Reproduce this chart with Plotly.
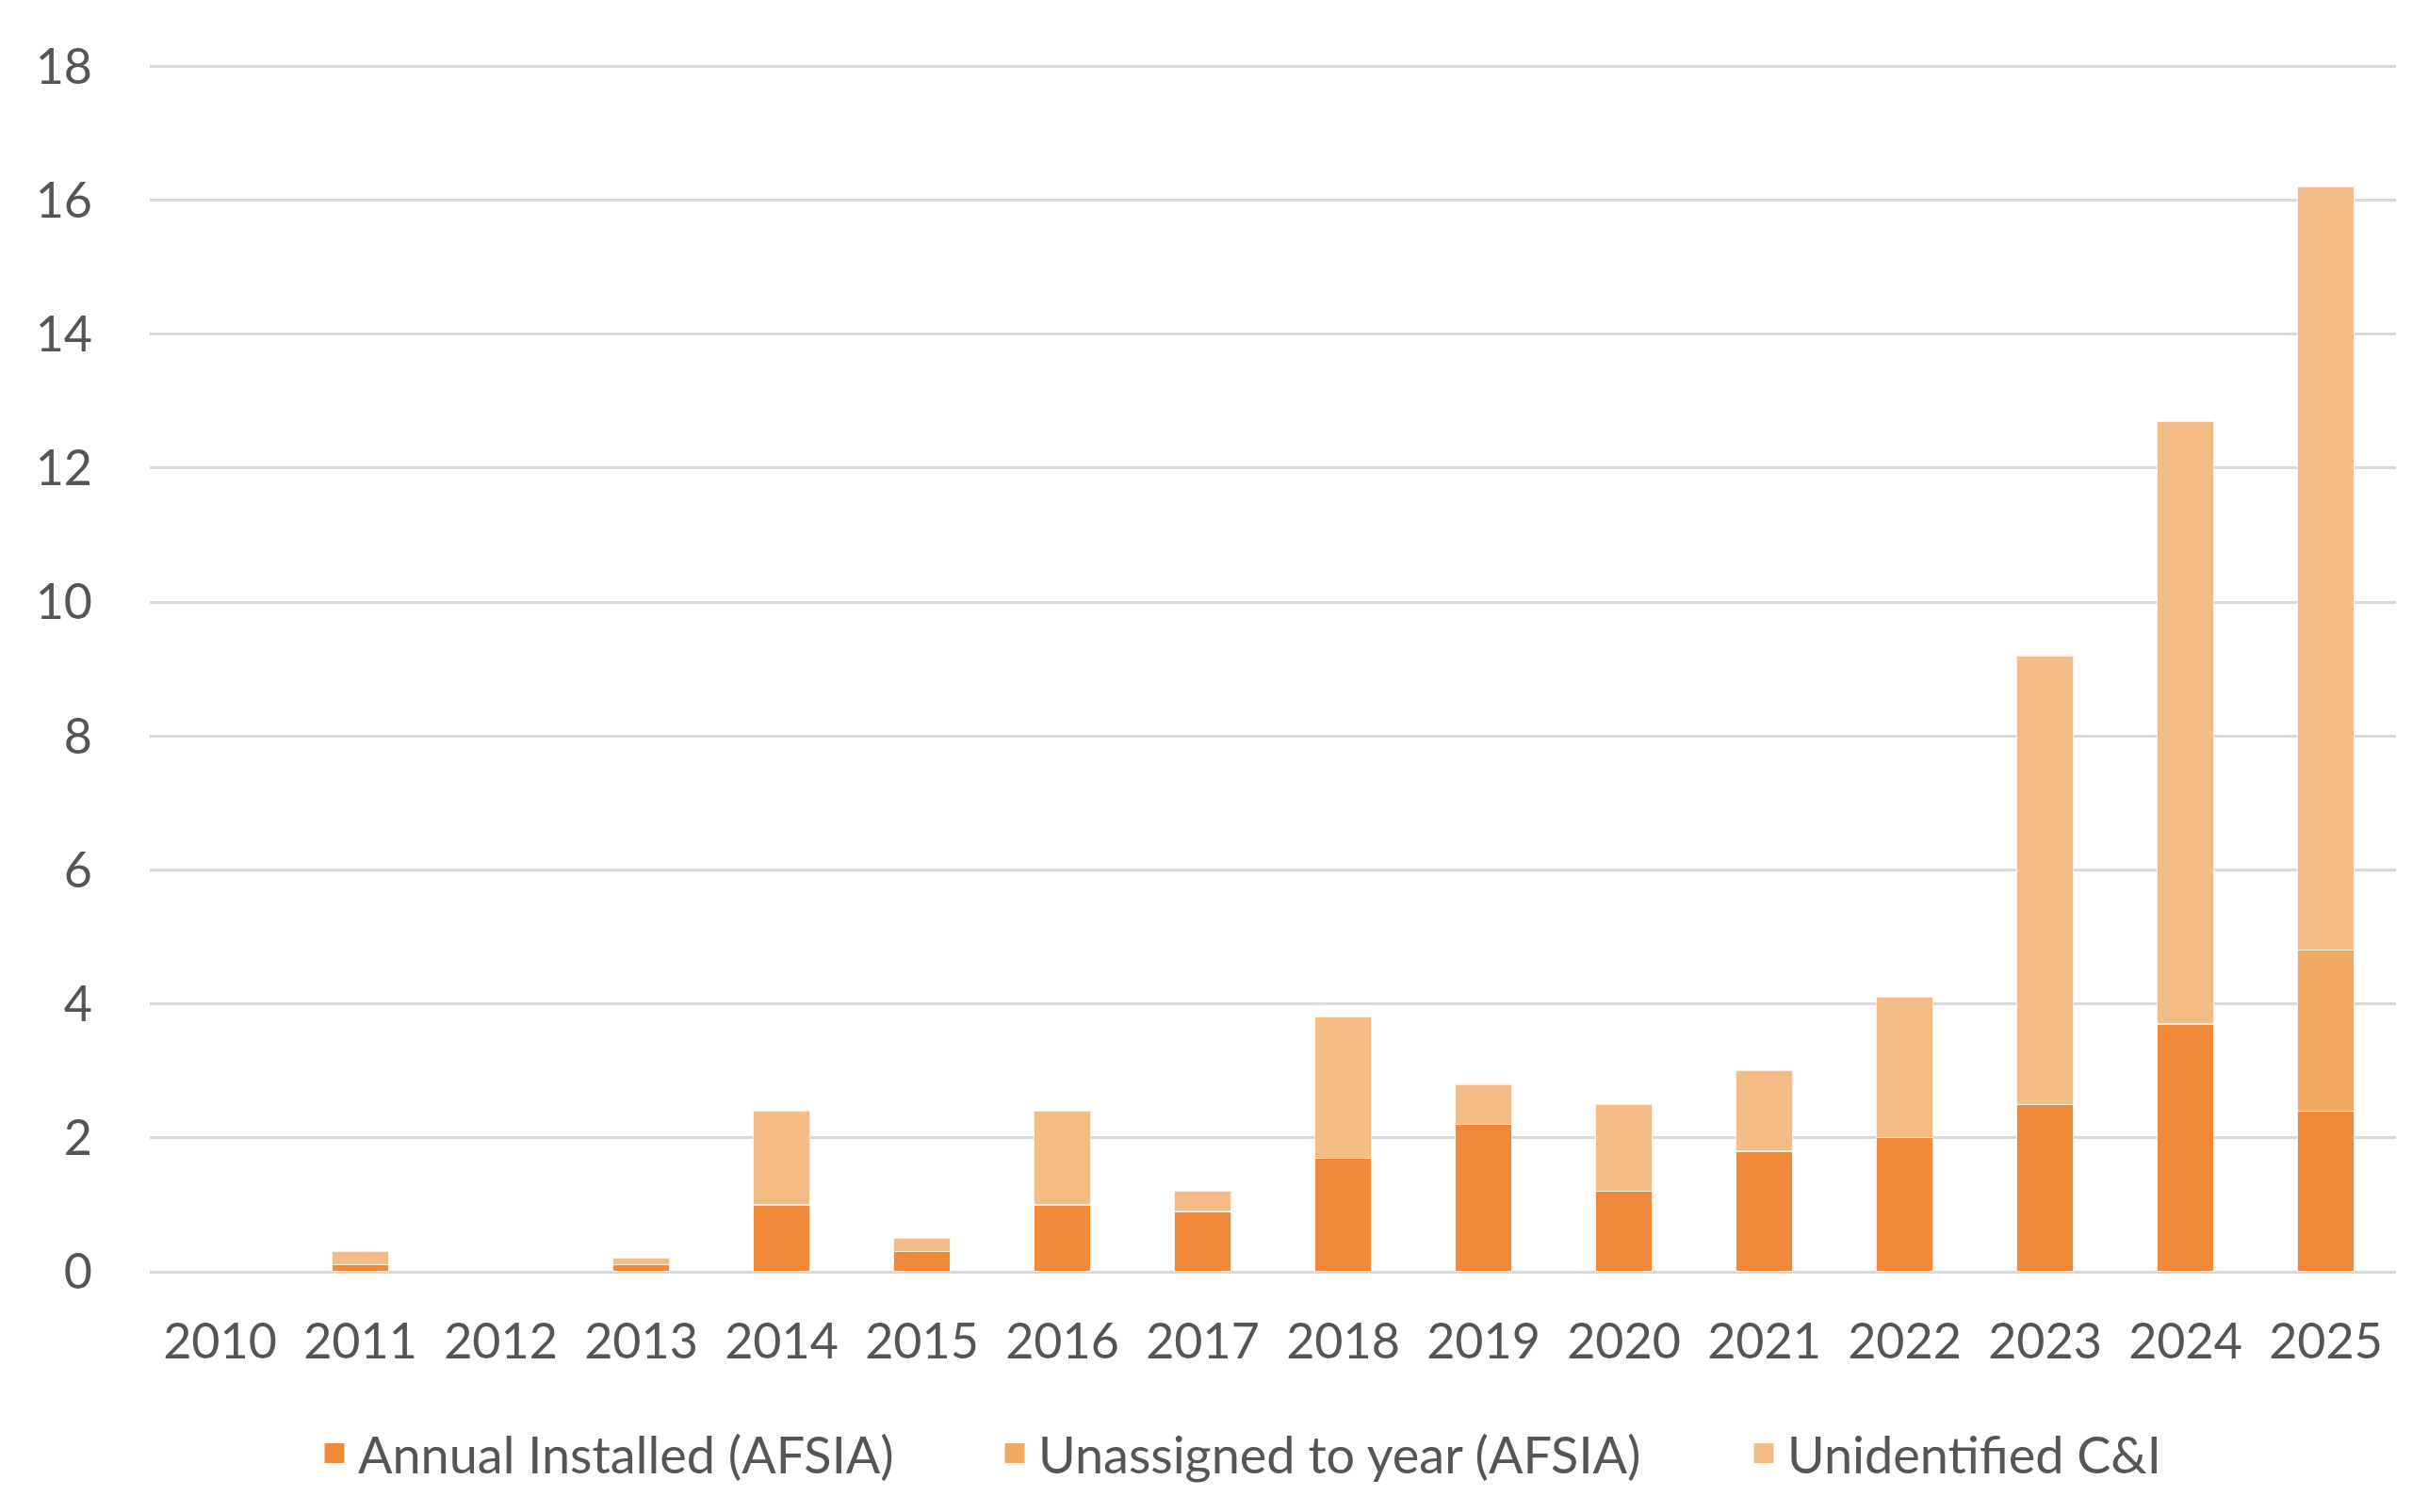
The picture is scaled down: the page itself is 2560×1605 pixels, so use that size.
import plotly.graph_objects as go

years = [str(y) for y in range(2010, 2026)]
annual_installed = [None, 0.1, None, 0.1, 1.0, 0.3, 1.0, 0.9, 1.7, 2.2, 1.2, 1.8, 2.0, 2.5, 3.7, 2.4]
unassigned = [None, None, None, None, None, None, None, None, None, None, None, None, None, None, None, 2.4]
unidentified_ci = [None, 0.2, None, 0.1, 1.4, 0.2, 1.4, 0.3, 2.1, 0.6, 1.3, 1.2, 2.1, 6.7, 9.0, 11.4]

series_names = ["Annual Installed (AFSIA)", "Unassigned to year (AFSIA)", "Unidentified C&I"]
series_values = [annual_installed, unassigned, unidentified_ci]
colors = ["#F08A3A", "#F1A862", "#F4BD86"]

y_ticks = [0, 2, 4, 6, 8, 10, 12, 14, 16, 18]

FONT = "Lato"
TXT = "#555555"
W, H = 2560, 1605

fig = go.Figure()
for name, vals, col in zip(series_names, series_values, colors):
    fig.add_trace(go.Bar(
        x=years, y=vals, name=name, showlegend=False,
        marker=dict(color=col, line=dict(color="rgba(255,240,225,0.9)", width=1.2)),
    ))

# legend entries (square markers), one legend each for exact placement
legend_x_px = [342, 1064, 1859]
legend_keys = ["legend", "legend2", "legend3"]
for name, col, key in zip(series_names, colors, legend_keys):
    fig.add_trace(go.Scatter(
        x=[None], y=[None], mode="markers", name=name, legend=key,
        marker=dict(symbol="square", size=16, color=col, line=dict(color=col, width=5)),
        showlegend=True,
    ))

leg_common = dict(
    orientation="h", xref="container", yref="container",
    yanchor="middle", y=1 - 1535 / H, xanchor="left",
    font=dict(family=FONT, size=54, color=TXT),
    bgcolor="rgba(0,0,0,0)", itemsizing="trace", itemclick=False,
    itemwidth=40,
)
layout_legends = {}
for key, xp in zip(legend_keys, legend_x_px):
    d = dict(leg_common)
    d["x"] = (xp - 20) / W
    layout_legends[key] = d

fig.update_layout(
    width=W, height=H,
    margin=dict(l=151, r=25, t=61, b=263),
    paper_bgcolor="white", plot_bgcolor="white",
    barmode="stack", bargap=0.6,
    font=dict(family=FONT, size=52, color=TXT),
    xaxis=dict(
        type="category", categoryorder="array", categoryarray=years,
        showgrid=False, showline=False, ticks="", zeroline=False,
        tickfont=dict(family=FONT, size=52, color=TXT),
        ticklabelstandoff=39, range=[-0.5, 15.5],
    ),
    yaxis=dict(
        range=[0, 18.02], tickvals=y_ticks, ticktext=[str(v) for v in y_ticks],
        showgrid=True, gridcolor="#D9D9D9", gridwidth=3,
        zeroline=True, zerolinecolor="#D9D9D9", zerolinewidth=3,
        showline=False, ticks="",
        tickfont=dict(family=FONT, size=52, color=TXT),
        ticklabelstandoff=60,
    ),
    **layout_legends,
)

fig.write_html("out.html")
